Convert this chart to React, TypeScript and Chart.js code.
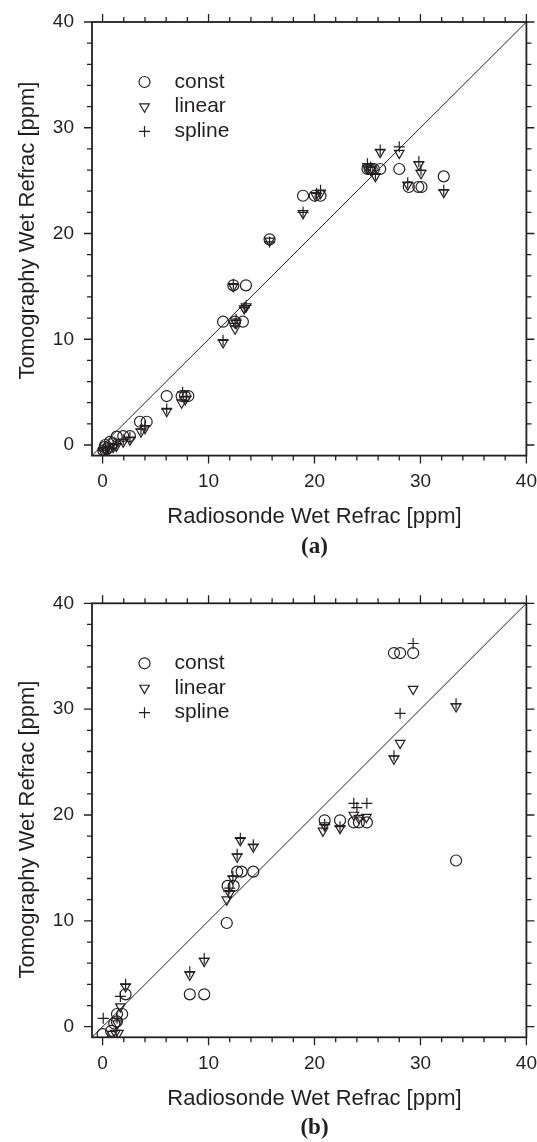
import React, { useEffect, useRef } from 'react';
import { Chart, registerables } from 'chart.js';

Chart.register(...registerables);

// ---------- data ----------
const AXIS_MIN = -1;
const AXIS_MAX = 40;
const MAJOR_TICKS = [0, 10, 20, 30, 40];
const MINOR_TICKS = [2, 4, 6, 8, 12, 14, 16, 18, 22, 24, 26, 28, 32, 34, 36, 38];
const LEGEND_LABELS = ['const', 'linear', 'spline'];
const X_TITLE = 'Radiosonde Wet Refrac [ppm]';
const Y_TITLE = 'Tomography Wet Refrac [ppm]';
const DIAGONAL = [-1, 40];

const constA: number[][] = [
  [0.07, -0.5], [0.2, -0.2], [0.5, -0.3], [0.25, 0.0], [0.7, 0.3], [1.0, 0.15], [1.33, 0.79],
  [1.95, 0.85], [2.58, 0.85], [3.53, 2.2], [4.16, 2.2], [6.05, 4.63], [7.46, 4.63], [7.77, 4.63],
  [8.09, 4.63], [11.37, 11.66], [12.5, 11.66], [13.24, 11.66], [12.34, 15.1], [13.53, 15.1],
  [15.76, 19.45], [18.92, 23.57], [20.02, 23.57], [20.57, 23.57], [25.0, 26.1], [25.2, 26.1],
  [25.4, 26.1], [25.6, 26.1], [26.2, 26.1], [28.0, 26.1], [28.9, 24.4], [29.8, 24.4], [30.1, 24.4],
  [32.2, 25.4],
];
const linearA: number[][] = [
  [0.05, -0.6], [0.3, -0.5], [0.6, -0.4], [1.0, -0.2], [1.3, -0.1], [1.95, 0.3], [2.58, 0.5],
  [3.62, 1.26], [4.0, 1.58], [6.05, 3.2], [7.46, 4.0], [7.8, 4.3], [11.37, 9.7], [12.34, 15.0],
  [12.5, 11.0], [12.6, 11.5], [13.37, 12.9], [13.55, 13.1], [15.76, 19.3], [18.92, 21.9],
  [20.1, 23.6], [20.57, 23.8], [25.0, 26.2], [25.3, 26.0], [25.75, 25.4], [26.2, 27.7],
  [28.0, 27.6], [28.8, 24.6], [29.85, 26.5], [30.05, 25.7], [32.2, 23.9],
];
const splineA: number[][] = [
  [0.05, -0.5], [0.3, -0.3], [0.6, -0.3], [1.0, 0.0], [1.3, 0.1], [1.95, 0.5], [2.58, 0.7],
  [3.62, 1.5], [4.0, 1.8], [6.05, 3.4], [7.55, 5.0], [7.9, 4.6], [11.37, 9.9], [12.34, 15.2],
  [12.5, 11.5], [12.6, 11.9], [13.37, 13.0], [13.55, 13.2], [15.76, 19.2], [18.92, 22.0],
  [20.2, 23.8], [20.57, 24.1], [25.0, 26.6], [25.3, 26.3], [25.75, 25.6], [26.2, 27.9],
  [28.0, 28.2], [28.8, 24.8], [29.85, 26.8], [30.05, 26.0], [32.2, 24.1],
];

const constB: number[][] = [
  [0.0, -0.7], [0.8, -0.4], [1.1, 0.3], [1.35, 0.5], [1.36, 1.2], [1.85, 1.2], [2.17, 3.06],
  [8.23, 3.06], [9.59, 3.06], [11.72, 9.8], [11.8, 13.3], [12.37, 13.3], [12.7, 14.65],
  [13.12, 14.65], [14.22, 14.65], [20.96, 19.5], [22.41, 19.5], [23.71, 19.3], [24.19, 19.3],
  [24.94, 19.3], [27.5, 35.3], [28.08, 35.3], [29.31, 35.3], [33.36, 15.7],
];
const linearB: number[][] = [
  [0.9, -0.7], [1.2, -0.6], [1.5, -0.6], [1.4, 0.3], [1.68, 1.9], [2.17, 3.8], [8.23, 4.9],
  [9.59, 6.2], [11.72, 12.0], [12.0, 12.6], [12.3, 14.0], [12.7, 16.06], [13.0, 17.6],
  [14.22, 17.0], [20.8, 18.5], [20.96, 19.0], [22.41, 18.75], [23.71, 20.0], [24.19, 19.7],
  [24.9, 19.8], [27.5, 25.3], [28.08, 26.8], [29.31, 31.9], [33.36, 30.25],
];
const splineB: number[][] = [
  [0.06, 0.79], [1.36, 0.8], [1.68, 2.86], [2.17, 4.0], [8.23, 5.2], [9.59, 6.45], [11.9, 12.8],
  [12.0, 13.1], [12.3, 14.2], [12.7, 16.3], [13.0, 17.8], [14.22, 17.2], [20.96, 19.1],
  [22.41, 18.9], [23.71, 21.1], [24.0, 20.7], [24.94, 21.1], [27.5, 25.6], [28.08, 29.6],
  [29.31, 36.2], [33.36, 30.5],
];

// ---------- styling / layout ----------
const W = 537;
const H = 571;
const INK = '#231f20';
const SANS = '"Liberation Sans", Arial, Helvetica, sans-serif';
const SERIF = '"Liberation Serif", "Times New Roman", serif';

type Panel = {
  label: string;
  series: number[][][];
  plotTop: number;
  plotBottom: number;
  plotLeft: number;
  plotRight: number;
  yTitleCenter: number;
};

const PANELS: Panel[] = [
  { label: '(a)', series: [constA, linearA, splineA], plotTop: 22, plotBottom: 455.6, plotLeft: 92, plotRight: 526.4, yTitleCenter: 230.5 },
  { label: '(b)', series: [constB, linearB, splineB], plotTop: 32.3, plotBottom: 466.3, plotLeft: 92, plotRight: 526.4, yTitleCenter: 258.5 },
];

const MARKER_R = 5.5;
const MARKER_LW = 1.2;

function drawMarker(ctx: CanvasRenderingContext2D, kind: number, x: number, y: number, r: number) {
  ctx.beginPath();
  if (kind === 0) {
    ctx.arc(x, y, r, 0, Math.PI * 2);
  } else if (kind === 1) {
    const h = r;
    ctx.moveTo(x, y + h);
    ctx.lineTo(x - h * Math.sin(Math.PI / 3), y - h / 2);
    ctx.lineTo(x + h * Math.sin(Math.PI / 3), y - h / 2);
    ctx.closePath();
  } else {
    ctx.moveTo(x - r, y);
    ctx.lineTo(x + r, y);
    ctx.moveTo(x, y - r);
    ctx.lineTo(x, y + r);
  }
  ctx.stroke();
}

function makeChart(canvas: HTMLCanvasElement, p: Panel) {
  const toPts = (arr: number[][]) => arr.map(([x, y]) => ({ x, y }));
  const styles = ['circle', 'triangle', 'cross'];

  const framePlugin = {
    id: 'frame',
    afterDraw(chart: any) {
      const { ctx, chartArea: ca } = chart;
      const xs = chart.scales.x;
      const ys = chart.scales.y;
      ctx.save();
      ctx.strokeStyle = INK;
      ctx.lineWidth = 1.8;
      ctx.strokeRect(ca.left, ca.top, ca.right - ca.left, ca.bottom - ca.top);
      ctx.lineWidth = 1.3;
      const all = [...MAJOR_TICKS.map((v) => [v, 8]), ...MINOR_TICKS.map((v) => [v, 5])];
      ctx.beginPath();
      for (const [v, len] of all) {
        const px = xs.getPixelForValue(v);
        ctx.moveTo(px, ca.bottom);
        ctx.lineTo(px, ca.bottom + len);
        ctx.moveTo(px, ca.top);
        ctx.lineTo(px, ca.top - len);
        const py = ys.getPixelForValue(v);
        ctx.moveTo(ca.left, py);
        ctx.lineTo(ca.left - len, py);
        ctx.moveTo(ca.right, py);
        ctx.lineTo(ca.right + len, py);
      }
      ctx.stroke();

      // legend
      ctx.fillStyle = INK;
      ctx.lineWidth = MARKER_LW;
      ctx.font = `21px ${SANS}`;
      ctx.textAlign = 'left';
      ctx.textBaseline = 'alphabetic';
      LEGEND_LABELS.forEach((lab, i) => {
        const ry = ca.top + 60 + i * 24.7;
        drawMarker(ctx, i, ca.left + 52.5, ry, MARKER_R);
        ctx.fillText(lab, ca.left + 82.5, ry + 5.5);
      });

      // axis titles
      const cx = (xs.getPixelForValue(0) + xs.getPixelForValue(40)) / 2;
      ctx.font = `22px ${SANS}`;
      ctx.textAlign = 'center';
      ctx.fillText(X_TITLE, cx, ca.bottom + 67.8);

      ctx.font = `bold 23px ${SERIF}`;
      ctx.textBaseline = 'middle';
      ctx.fillText(p.label, cx, ca.bottom + 91);

      ctx.save();
      ctx.translate(33.6, p.yTitleCenter);
      ctx.rotate(-Math.PI / 2);
      ctx.font = `22px ${SANS}`;
      ctx.textAlign = 'center';
      ctx.textBaseline = 'alphabetic';
      ctx.fillText(Y_TITLE, 0, 0);
      ctx.restore();
      ctx.restore();
    },
  };

  const tickCfg = (pad: number) => ({
    padding: pad,
    color: INK,
    font: { family: SANS, size: 19 },
    maxRotation: 0,
    autoSkip: false,
  });

  return new Chart(canvas, {
    type: 'scatter',
    data: {
      datasets: [
        {
          type: 'line',
          data: DIAGONAL.map((v) => ({ x: v, y: v })),
          borderColor: INK,
          borderWidth: 1,
          pointRadius: 0,
          fill: false,
        } as any,
        ...p.series.map((s, i) => ({
          data: toPts(s),
          pointStyle: styles[i],
          pointRadius: MARKER_R,
          pointRotation: i === 1 ? 180 : 0,
          rotation: i === 1 ? 180 : 0,
          pointBorderColor: INK,
          borderColor: INK,
          pointBorderWidth: MARKER_LW,
          borderWidth: MARKER_LW,
          pointBackgroundColor: 'rgba(0,0,0,0)',
          backgroundColor: 'rgba(0,0,0,0)',
        })),
      ],
    },
    options: {
      animation: false,
      responsive: false,
      devicePixelRatio: 1,
      events: [],
      layout: { padding: { top: p.plotTop, right: W - p.plotRight, bottom: 0, left: 0 } },
      plugins: { legend: { display: false }, tooltip: { enabled: false } },
      scales: {
        x: {
          type: 'linear',
          min: AXIS_MIN,
          max: AXIS_MAX,
          grid: { display: false, drawTicks: false },
          border: { display: false },
          ticks: tickCfg(15),
          afterBuildTicks: (s: any) => {
            s.ticks = MAJOR_TICKS.map((v) => ({ value: v }));
          },
          afterFit: (s: any) => {
            s.height = H - p.plotBottom;
            s.paddingLeft = 0;
            s.paddingRight = 0;
          },
        },
        y: {
          type: 'linear',
          min: AXIS_MIN,
          max: AXIS_MAX,
          grid: { display: false, drawTicks: false },
          border: { display: false },
          ticks: tickCfg(18),
          afterBuildTicks: (s: any) => {
            s.ticks = MAJOR_TICKS.map((v) => ({ value: v }));
          },
          afterFit: (s: any) => {
            s.width = p.plotLeft;
            s.paddingTop = 0;
            s.paddingBottom = 0;
          },
        },
      },
    } as any,
    plugins: [framePlugin],
  });
}

export default function App() {
  const topRef = useRef<HTMLCanvasElement>(null);
  const botRef = useRef<HTMLCanvasElement>(null);

  useEffect(() => {
    const c1 = makeChart(topRef.current as HTMLCanvasElement, PANELS[0]);
    const c2 = makeChart(botRef.current as HTMLCanvasElement, PANELS[1]);
    return () => {
      c1.destroy();
      c2.destroy();
    };
  }, []);

  return (
    <div style={{ position: 'absolute', left: 0, top: 0, width: W, height: H * 2, background: '#fff' }}>
      <canvas ref={topRef} width={W} height={H} style={{ display: 'block', width: W, height: H }} />
      <canvas ref={botRef} width={W} height={H} style={{ display: 'block', width: W, height: H }} />
    </div>
  );
}
